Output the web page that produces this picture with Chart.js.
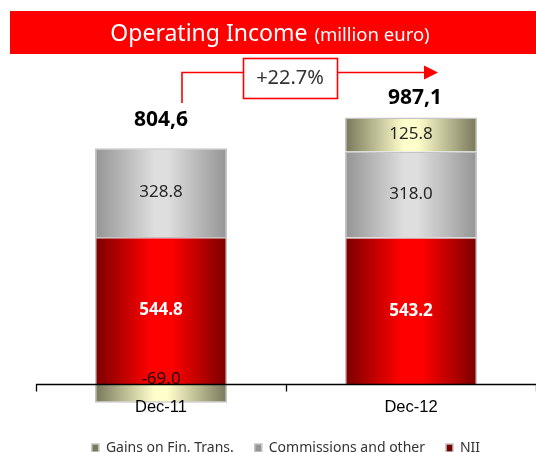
<!DOCTYPE html>
<html>
<head>
<meta charset="utf-8">
<script src="https://cdn.jsdelivr.net/npm/chart.js@4.4.0/dist/chart.umd.min.js"></script>
<style>
  html, body { margin: 0; padding: 0; background: #fff; }
  #wrap { width: 536px; height: 452px; }
</style>
</head>
<body>
<div id="wrap"><canvas id="chart"></canvas></div>
<script>
const categories = ['Dec-11', 'Dec-12'];
const nii = [544.8, 543.2];
const commissions = [328.8, 318.0];
const gains = [-69.0, 125.8];
const totals = ['804,6', '987,1'];
const growth = '+22.7%';

const BAR_FRACTION = 0.755 * 0.7;

// horizontal "cylinder" shading for each bar
function barGradient(stops, flat) {
  return (ctx) => {
    const chart = ctx.chart;
    if (ctx.type !== 'data' || !chart.chartArea) return flat;
    const x = chart.scales.x;
    const cx = x.getPixelForValue(ctx.dataIndex);
    const half = (x.width / categories.length) * BAR_FRACTION / 2;
    const g = chart.ctx.createLinearGradient(cx - half, 0, cx + half, 0);
    stops.forEach(([o, c]) => g.addColorStop(o, c));
    return g;
  };
}

const redStops = [[0, '#7a0000'], [0.42, '#ff0000'], [0.58, '#ff0000'], [1, '#7a0000']];
const greyStops = [[0, '#949494'], [0.45, '#dedede'], [0.55, '#dedede'], [1, '#949494']];
const oliveStops = [[0, '#77775a'], [0.45, '#ffffcc'], [0.55, '#ffffcc'], [1, '#77775a']];

const bannerPlugin = {
  id: 'banner',
  beforeDraw(chart) {
    const c = chart.ctx;
    c.save();
    c.fillStyle = '#ff0000';
    c.fillRect(10, 11, chart.width - 10, 43);
    const t1 = 'Operating Income';
    const t2 = '(million euro)';
    c.textBaseline = 'alphabetic';
    c.fillStyle = '#ffffff';
    c.font = '23px "Noto Sans"';
    const w1 = c.measureText(t1).width;
    c.font = '18.5px "Noto Sans"';
    const w2 = c.measureText(t2).width;
    const start = 270 - (w1 + 7 + w2) / 2;
    c.font = '23px "Noto Sans"';
    c.fillText(t1, start, 41);
    c.font = '18.5px "Noto Sans"';
    c.fillText(t2, start + w1 + 7, 41);
    c.restore();
  }
};

const axisPlugin = {
  id: 'zeroAxis',
  afterDatasetsDraw(chart) {
    const c = chart.ctx;
    const x = chart.scales.x;
    const y0 = Math.round(chart.scales.y.getPixelForValue(0)) + 0.5;
    c.save();
    c.strokeStyle = '#000';
    c.lineWidth = 1.3;
    c.beginPath();
    c.moveTo(x.left, y0);
    c.lineTo(x.right, y0);
    const step = x.width / categories.length;
    for (let i = 0; i <= categories.length; i++) {
      const px = Math.round(x.left + i * step) + 0.5;
      c.moveTo(px, y0);
      c.lineTo(px, y0 + 7);
    }
    c.stroke();
    c.restore();
  }
};

const labelPlugin = {
  id: 'valueLabels',
  afterDatasetsDraw(chart) {
    const c = chart.ctx;
    c.save();
    c.textAlign = 'center';
    c.textBaseline = 'middle';
    const tops = categories.map(() => Infinity);
    chart.data.datasets.forEach((ds, di) => {
      const meta = chart.getDatasetMeta(di);
      meta.data.forEach((bar, i) => {
        const v = ds.data[i];
        let cy = (bar.y + bar.base) / 2;
        if (v < 0) cy = bar.base - 5;
        else tops[i] = Math.min(tops[i], bar.y);
        if (di === 0) {
          c.font = 'bold 17px "Noto Sans"';
          c.fillStyle = '#ffffff';
        } else {
          c.font = '17px "Noto Sans"';
          c.fillStyle = v < 0 ? '#1a0000' : '#262626';
        }
        c.fillText(v.toFixed(1), bar.x, cy);
      });
    });
    // stack totals
    const offsets = [28, 20];
    c.font = 'bold 21px "Noto Sans"';
    c.fillStyle = '#000';
    const xs = chart.scales.x;
    totals.forEach((t, i) => {
      c.fillText(t, xs.getPixelForValue(i) + (i === 1 ? 4 : 0), tops[i] - offsets[i]);
    });

    // growth arrow
    const x0 = xs.getPixelForValue(0) + 21;
    const x1 = xs.getPixelForValue(1) + 27;
    const ay = 72.5;
    c.strokeStyle = '#ff0000';
    c.lineWidth = 1.6;
    c.beginPath();
    c.moveTo(x0, 103);
    c.lineTo(x0, ay);
    c.lineTo(243, ay);
    c.moveTo(337, ay);
    c.lineTo(x1 - 13, ay);
    c.stroke();
    c.fillStyle = '#ff0000';
    c.beginPath();
    c.moveTo(x1 - 14, ay - 7);
    c.lineTo(x1, ay);
    c.lineTo(x1 - 14, ay + 7);
    c.closePath();
    c.fill();
    c.lineWidth = 1.6;
    c.strokeRect(243.5, 58.5, 94, 40);
    c.font = '20px "Noto Sans"';
    c.fillStyle = '#333';
    c.fillText(growth, 290, 78);
    c.restore();
  }
};

const common = {
  borderColor: '#c4c4c4',
  borderWidth: 1.5,
  barPercentage: 0.755,
  categoryPercentage: 0.7,
  clip: false
};

new Chart(document.getElementById('chart'), {
  type: 'bar',
  data: {
    labels: categories,
    datasets: [
      { label: 'NII', data: nii, backgroundColor: barGradient(redStops, '#ee0000'), ...common },
      { label: 'Commissions and other', data: commissions, backgroundColor: barGradient(greyStops, '#c8c8c8'), ...common },
      { label: 'Gains on Fin. Trans.', data: gains, backgroundColor: barGradient(oliveStops, '#ecebb0'), ...common }
    ]
  },
  options: {
    responsive: true,
    maintainAspectRatio: false,
    animation: false,
    devicePixelRatio: 1,
    layout: { padding: { left: 36, right: 0, top: 60, bottom: -13 } },
    scales: {
      x: {
        stacked: true,
        grid: { display: false },
        border: { display: false },
        ticks: { z: 1, color: '#000', font: { family: '"Liberation Sans"', size: 16.5 }, padding: 3 }
      },
      y: {
        stacked: true,
        display: false,
        min: -8,
        max: 1200
      }
    },
    plugins: {
      legend: {
        position: 'bottom',
        reverse: true,
        labels: {
          boxWidth: 7,
          boxHeight: 8,
          padding: 21,
          color: '#333',
          font: { family: '"Noto Sans"', size: 14 }
        }
      },
      tooltip: { enabled: false }
    }
  },
  plugins: [bannerPlugin, axisPlugin, labelPlugin]
});
</script>
</body>
</html>
